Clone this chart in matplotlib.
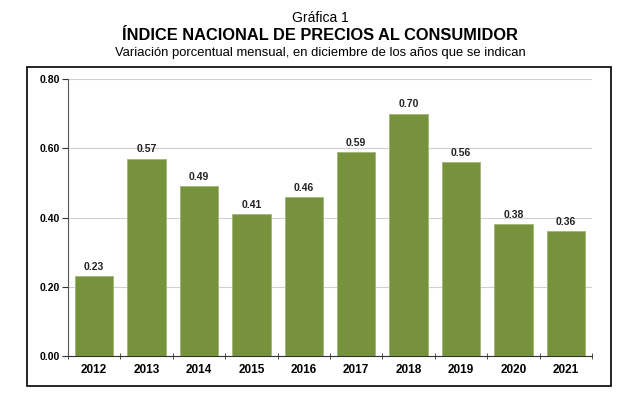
import matplotlib
matplotlib.use("Agg")
import matplotlib.pyplot as plt
from matplotlib.patches import Rectangle
import numpy as np

years = ['2012', '2013', '2014', '2015', '2016', '2017', '2018', '2019', '2020', '2021']
values = [0.23, 0.57, 0.49, 0.41, 0.46, 0.59, 0.70, 0.56, 0.38, 0.36]
yticks = [0.0, 0.2, 0.4, 0.6, 0.8]

plt.rcParams['font.family'] = ['Liberation Sans', 'DejaVu Sans']

fig = plt.figure(figsize=(6.4, 4.05), dpi=100)
ax = fig.add_axes([68/640, 1-356/405, (592-68)/640, (356-79)/405])

x = np.arange(len(years))
ax.bar(x, values, width=0.73, color='#76923C', edgecolor='#9fb573', linewidth=0.6, zorder=3)
for xi, v in zip(x, values):
    ax.text(xi, v + 0.012, '%.2f' % v, ha='center', va='bottom', fontsize=7.5, fontweight='bold', color='#222222')

ax.set_xlim(-0.5, len(years) - 0.5)
ax.set_ylim(0, 0.8)
ax.set_yticks(yticks)
ax.set_yticklabels(['%.2f' % t for t in yticks], fontsize=7.5, fontweight='bold')
ax.yaxis.grid(True, color='#d0d0d0', linewidth=0.8, zorder=0)
ax.set_xticks(x)
ax.set_xticklabels(years, fontsize=8.5, fontweight='bold')
ax.tick_params(axis='x', length=0, pad=6)
ax.set_xticks(np.arange(-0.5, len(years)), minor=True)
ax.tick_params(axis='x', which='minor', length=5, direction='inout', color='#333333')
ax.tick_params(axis='y', length=4, direction='out', color='#333333', pad=2)
for s in ['top', 'right']:
    ax.spines[s].set_visible(False)
ax.spines['left'].set_color('#555555')
ax.spines['bottom'].set_color('#333333')

# outer frame
fig.patches.append(Rectangle((27/640, 1-386/405), (611-27)/640, (386-67)/405,
                             transform=fig.transFigure, fill=False, edgecolor='black', linewidth=1.2))

fig.text(0.5, 1-18/405, 'Gráfica 1', ha='center', va='center', fontsize=10)
fig.text(0.5, 1-35/405, 'ÍNDICE NACIONAL DE PRECIOS AL CONSUMIDOR', ha='center', va='center', fontsize=11.8, fontweight='bold')
fig.text(0.5, 1-53/405, 'Variación porcentual mensual, en diciembre de los años que se indican', ha='center', va='center', fontsize=9.4)

fig.savefig('out.png', dpi=100)
